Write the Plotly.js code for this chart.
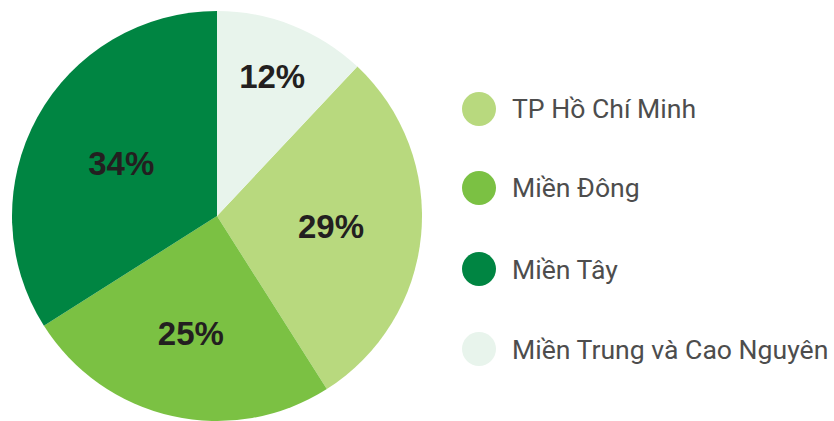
<!DOCTYPE html>
<html>
<head>
<meta charset="utf-8">
<script src="https://cdn.plot.ly/plotly-3.0.1.min.js"></script>
<style>html,body{margin:0;padding:0;background:#fff;}#chart{width:834px;height:421px;}</style>
</head>
<body>
<div id="chart"></div>
<script>
const regions = ["TP Hồ Chí Minh", "Miền Đông", "Miền Tây", "Miền Trung và Cao Nguyên"];
const shares = [29, 25, 34, 12];
const colors = ["#b8d97e", "#7bc143", "#008542", "#e8f4ec"];

const pie = {
  type: "pie",
  labels: regions,
  values: shares,
  sort: false,
  direction: "clockwise",
  rotation: 360 * shares[3] / shares.reduce((a, b) => a + b, 0),
  marker: {colors: colors, line: {width: 0}},
  texttemplate: "%{value}%",
  textposition: "inside",
  insidetextorientation: "horizontal",
  textfont: {family: "Liberation Sans, Arial, sans-serif", size: 33, color: "#231f20", weight: 700},
  hoverinfo: "label+percent",
  showlegend: false,
  domain: {x: [12 / 834, 422 / 834], y: [0, 1 - 11 / 421]}
};

// custom legend with round swatches
const shapes = [];
const annotations = [];
const legendY = [109, 188, 269, 349];
regions.forEach((r, i) => {
  const cy = 1 - legendY[i] / 421;
  const rx = 17 / 834, ry = 17 / 421;
  const cx = 479 / 834;
  shapes.push({type: "circle", xref: "paper", yref: "paper", x0: cx - rx, x1: cx + rx, y0: cy - ry, y1: cy + ry,
    fillcolor: colors[i], line: {width: 0}});
  annotations.push({xref: "paper", yref: "paper", x: 510 / 834, y: cy, xanchor: "left", yanchor: "middle",
    text: r, showarrow: false, font: {family: "Roboto, sans-serif", size: 26.6, color: "#4d4d4d"}});
});

const layout = {
  width: 834, height: 421,
  margin: {l: 0, r: 0, t: 0, b: 0},
  paper_bgcolor: "#ffffff",
  showlegend: false,
  shapes: shapes,
  annotations: annotations
};

Plotly.newPlot("chart", [pie], layout, {displayModeBar: false, staticPlot: true});
</script>
</body>
</html>
